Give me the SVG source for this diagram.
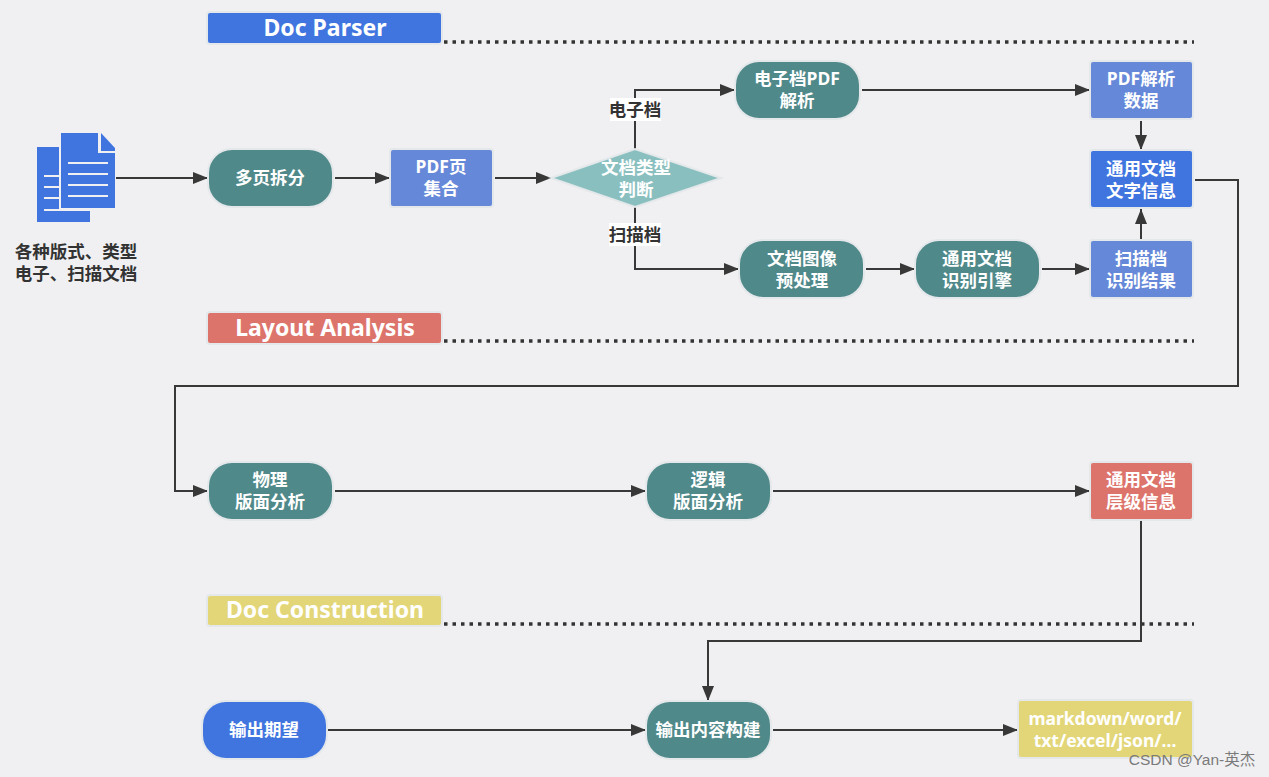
<svg xmlns="http://www.w3.org/2000/svg" width="1269" height="777" viewBox="0 0 1269 777">
<style>
text{font-family:"Noto Sans","Noto Sans CJK SC",sans-serif;font-weight:700;text-anchor:middle}
.w{fill:#fff;font-size:17.5px}
.b{font-size:23px;fill:#fff}
.d{fill:#333;font-size:17.5px}
.n{stroke:#e4e8ea;stroke-width:2}
.g{fill:#50898a}.p{fill:#6688d8}.bl{fill:#4075e0}.r{fill:#dd746c}.y{fill:#e3d678}
.c{fill:none;stroke:#383838;stroke-width:2;marker-end:url(#a)}
.dot{fill:none;stroke:#333;stroke-width:3.5;stroke-dasharray:3.5 5}
</style>
<defs><marker id="a" markerUnits="userSpaceOnUse" markerWidth="15" markerHeight="13" refX="15" refY="6.5" orient="auto"><path d="M0 0.5L15 6.5L0 12.500Z" fill="#383838"/></marker></defs>
<rect width="1269" height="777" fill="#f0f0f2"/>
<g id="connectors">
<path class="dot" d="M444 42H1194M444 341H1194M444 624H1194"/>
<path class="c" d="M116 178H208"/>
<path class="c" d="M335 178H390"/>
<path class="c" d="M495 178H551"/>
<path class="c" d="M635 149V90H735"/>
<path class="c" d="M635 207V269H739"/>
<path class="c" d="M862 90H1090"/>
<path class="c" d="M866 269H915"/>
<path class="c" d="M1042 269H1090"/>
<path class="c" d="M1141 121V150"/>
<path class="c" d="M1141 239V209"/>
<path class="c" d="M1195 180H1238V386H175V491H208"/>
<path class="c" d="M335 491H646"/>
<path class="c" d="M773 491H1090"/>
<path class="c" d="M1141 521V641H708V701"/>
<path class="c" d="M328 730H646"/>
<path class="c" d="M773 730H1018"/>
<rect x="610" y="98" width="51" height="23" fill="#fff"/><text class="d" x="635" y="116">电子档</text>
<rect x="609" y="223" width="52" height="23" fill="#fff"/><text class="d" x="635" y="241">扫描档</text>
</g>
<g id="doc-parser"><rect class="n bl" x="207" y="12" width="235" height="32" rx="3"/><text class="b" x="325" y="36">Doc Parser</text></g>
<g id="layout-analysis"><rect class="n r" x="207" y="312" width="235" height="32" rx="3"/><text class="b" x="325" y="336">Layout Analysis</text></g>
<g id="doc-construction"><rect class="n y" x="207" y="595" width="235" height="31" rx="3"/><text class="b" x="325" y="618">Doc Construction</text></g>
<g id="docs">
<path fill="#4075e0" d="M37 147H59V209H90V222H37Z"/>
<path fill="#4075e0" d="M61 133H98V153H115V208H61Z"/>
<path fill="#4075e0" d="M101 133L115 148V151H101Z"/>
<path stroke="#f0f0f2" stroke-width="2" fill="none" d="M68 163H108M68 174H108M68 185H108M68 196H108M44 176H59M44 187H59M44 198H59M44 210H90"/>
<text class="d" x="76" y="258">各种版式、类型</text><text class="d" x="76" y="280">电子、扫描文档</text>
</g>
<g id="split"><rect class="n g" x="208" y="149" width="125" height="58" rx="24"/><text class="w" x="270" y="184">多页拆分</text></g>
<g id="pdfpages"><rect class="n p" x="390" y="149" width="103" height="58" rx="3"/><text class="w" x="441" y="173">PDF页</text><text class="w" x="441" y="195">集合</text></g>
<g id="decision"><path class="n" fill="#8abfc0" d="M551 178L635 149L721 178L635 207Z"/><text class="w" x="636" y="173.500">文档类型</text><text class="w" x="636" y="195.500">判断</text></g>
<g id="epdf"><rect class="n g" x="735" y="61" width="125" height="58" rx="24"/><text class="w" x="797" y="85">电子档PDF</text><text class="w" x="797" y="107">解析</text></g>
<g id="pdfdata"><rect class="n p" x="1090" y="61" width="103" height="58" rx="3"/><text class="w" x="1141" y="85">PDF解析</text><text class="w" x="1141" y="107">数据</text></g>
<g id="textinfo"><rect class="n bl" x="1090" y="150" width="103" height="58" rx="3"/><text class="w" x="1141" y="175">通用文档</text><text class="w" x="1141" y="197">文字信息</text></g>
<g id="prep"><rect class="n g" x="739" y="240" width="125" height="58" rx="24"/><text class="w" x="802" y="265">文档图像</text><text class="w" x="802" y="287">预处理</text></g>
<g id="engine"><rect class="n g" x="915" y="240" width="125" height="58" rx="24"/><text class="w" x="977" y="265">通用文档</text><text class="w" x="977" y="287">识别引擎</text></g>
<g id="scanres"><rect class="n p" x="1090" y="240" width="103" height="58" rx="3"/><text class="w" x="1141" y="265">扫描档</text><text class="w" x="1141" y="287">识别结果</text></g>
<g id="phys"><rect class="n g" x="208" y="462" width="125" height="58" rx="24"/><text class="w" x="270" y="486">物理</text><text class="w" x="270" y="508">版面分析</text></g>
<g id="logic"><rect class="n g" x="646" y="462" width="125" height="58" rx="24"/><text class="w" x="708" y="486">逻辑</text><text class="w" x="708" y="508">版面分析</text></g>
<g id="hier"><rect class="n r" x="1090" y="462" width="103" height="58" rx="3"/><text class="w" x="1141" y="486">通用文档</text><text class="w" x="1141" y="508">层级信息</text></g>
<g id="expect"><rect class="n bl" x="202" y="701" width="125" height="58" rx="24"/><text class="w" x="264" y="736">输出期望</text></g>
<g id="build"><rect class="n g" x="646" y="701" width="125" height="58" rx="24"/><text class="w" x="708" y="736">输出内容构建</text></g>
<g id="output"><rect class="n y" x="1018" y="700" width="175" height="58" rx="3"/><text class="w" x="1105" y="725">markdown/word/</text><text class="w" x="1105" y="747">txt/excel/json/...</text></g>
<text x="1192" y="765" style="font-family:'Liberation Sans','Noto Sans CJK SC',sans-serif;font-weight:400;font-size:15.5px;fill:#7a7a7a">CSDN @Yan-英杰</text>
</svg>
